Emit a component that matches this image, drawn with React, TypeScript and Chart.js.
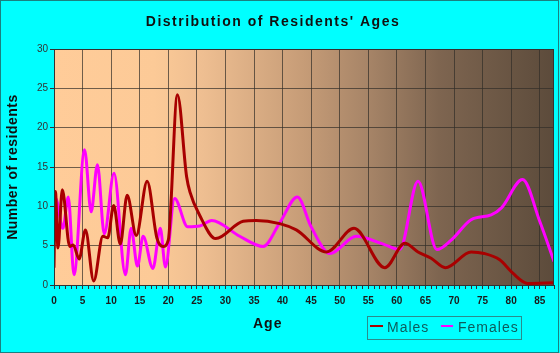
import React, { useEffect, useRef } from 'react';
import { Chart, registerables } from 'chart.js';

Chart.register(...registerables);

const chartTitle = "Distribution of Residents' Ages";
const xAxisTitle = 'Age';
const yAxisTitle = 'Number of residents';
const seriesNames = ['Males', 'Females'];

const maleAges = [0, 0.25, 0.7, 1.45, 2.75, 3.35, 4.4, 5.5, 6.95, 8.55, 9.4, 10.45, 11.6, 12.8, 14.4, 16.3, 18.0, 19.1, 20.0, 21.6, 23.2, 23.8, 25.4, 28.3, 33.1, 35.4, 39.5, 42.4, 47.7, 52.5, 57.9, 61.4, 63.7, 66.0, 68.5, 73.0, 75.3, 78.0, 80.3, 82.9, 87.5];
const maleCounts = [2.2, 11.9, 4.7, 12.1, 4.9, 5.1, 3.3, 7.0, 0.5, 6.2, 6.0, 10.1, 5.2, 11.4, 6.3, 13.2, 6.0, 4.9, 5.7, 24.2, 13.8, 11.8, 9.0, 5.9, 8.1, 8.2, 7.8, 7.0, 4.2, 7.2, 2.2, 5.3, 4.2, 3.4, 2.2, 4.2, 4.0, 3.2, 1.5, 0.2, 0.3];

const femaleAges = [0, 0.3, 1.55, 2.5, 3.5, 5.35, 6.5, 7.6, 8.8, 10.5, 12.5, 13.5, 14.6, 15.6, 17.3, 18.6, 19.5, 21.1, 23.4, 25.5, 27.6, 32.5, 36.6, 39.5, 42.6, 45.0, 48.3, 52.9, 57.6, 60.5, 63.7, 67.0, 69.5, 73.0, 76.5, 78.3, 82.0, 85.0, 87.5];
const femaleCounts = [10.0, 11.0, 7.2, 11.2, 1.3, 17.2, 9.3, 15.3, 6.5, 14.2, 1.3, 7.2, 2.4, 6.2, 2.1, 7.2, 2.3, 11.0, 7.4, 7.5, 8.2, 6.2, 4.9, 7.9, 11.2, 7.4, 4.0, 6.2, 5.2, 4.5, 13.2, 4.5, 5.7, 8.3, 8.9, 9.8, 13.4, 8.1, 3.0];

const xMin = 0;
const xMax = 87.5;
const xLabelEvery = 5;
const yMin = 0;
const yMax = 30;
const yStep = 5;

const MALE_COLOR = '#a80000';
const FEMALE_COLOR = '#ff00ff';

const decorPlugin = {
  id: 'decor',
  beforeDraw(chart: any) {
    const { ctx, chartArea: a, width, height } = chart;
    ctx.save();
    ctx.fillStyle = '#00ffff';
    ctx.fillRect(0, 0, width, height);
    const g = ctx.createLinearGradient(a.left, 0, a.right, 0);
    g.addColorStop(0, '#ffcc99');
    g.addColorStop(0.2, '#fcca97');
    g.addColorStop(0.3, '#eebe91');
    g.addColorStop(0.5, '#c69c77');
    g.addColorStop(0.63, '#a68467');
    g.addColorStop(0.77, '#7e6550');
    g.addColorStop(1, '#5c4b3b');
    ctx.fillStyle = g;
    ctx.fillRect(a.left, a.top, a.right - a.left, a.bottom - a.top);
    ctx.restore();
  },
  afterDraw(chart: any) {
    const { ctx, chartArea: a, width, height } = chart;
    ctx.save();
    // plot frame
    ctx.strokeStyle = '#333333';
    ctx.lineWidth = 1;
    ctx.strokeRect(Math.round(a.left) + 0.5, Math.round(a.top) + 0.5, Math.round(a.right - a.left) - 1, Math.round(a.bottom - a.top));
    // outer border
    ctx.strokeStyle = '#1a8080';
    ctx.strokeRect(0.5, 0.5, width - 2, height - 1);

    ctx.fillStyle = '#111111';
    (ctx as any).letterSpacing = '1.5px';
    ctx.font = 'bold 14px "Liberation Sans", Arial, sans-serif';
    ctx.textAlign = 'center';
    ctx.textBaseline = 'alphabetic';
    ctx.fillText(chartTitle, 273, 26);

    (ctx as any).letterSpacing = '1px';
    ctx.textAlign = 'left';
    ctx.fillText(xAxisTitle, 253, 328);

    ctx.save();
    ctx.translate(17, (a.top + a.bottom) / 2);
    ctx.rotate(-Math.PI / 2);
    ctx.textAlign = 'center';
    (ctx as any).letterSpacing = '0.5px';
    ctx.fillText(yAxisTitle, 0, 0);
    ctx.restore();

    // legend
    ctx.strokeStyle = '#2a8c8c';
    ctx.lineWidth = 1;
    ctx.strokeRect(367.5, 316.5, 154, 23);
    ctx.lineWidth = 2;
    ctx.strokeStyle = MALE_COLOR;
    ctx.beginPath();
    ctx.moveTo(370, 326);
    ctx.lineTo(383, 326);
    ctx.stroke();
    ctx.strokeStyle = FEMALE_COLOR;
    ctx.beginPath();
    ctx.moveTo(441, 326);
    ctx.lineTo(453, 326);
    ctx.stroke();
    ctx.fillStyle = '#0d5c5c';
    ctx.font = '14px "Liberation Sans", Arial, sans-serif';
    (ctx as any).letterSpacing = '1px';
    ctx.textAlign = 'left';
    ctx.fillText(seriesNames[0], 387, 332);
    ctx.fillText(seriesNames[1], 458, 332);
    ctx.restore();
  },
};

export default function App() {
  const canvasRef = useRef<HTMLCanvasElement | null>(null);

  useEffect(() => {
    document.body.style.margin = '0';
    const canvas = canvasRef.current;
    if (!canvas) return;
    const maleData = maleAges.map((x, i) => ({ x, y: maleCounts[i] }));
    const femaleData = femaleAges.map((x, i) => ({ x, y: femaleCounts[i] }));
    const chart = new Chart(canvas, {
      type: 'line',
      data: {
        datasets: [
          {
            label: seriesNames[0],
            data: maleData,
            borderColor: MALE_COLOR,
            backgroundColor: MALE_COLOR,
            borderWidth: 3,
            pointRadius: 0,
            cubicInterpolationMode: 'monotone',
            order: 1,
          },
          {
            label: seriesNames[1],
            data: femaleData,
            borderColor: FEMALE_COLOR,
            backgroundColor: FEMALE_COLOR,
            borderWidth: 3,
            pointRadius: 0,
            cubicInterpolationMode: 'monotone',
            order: 2,
          },
        ],
      },
      plugins: [decorPlugin],
      options: {
        responsive: false,
        animation: false,
        devicePixelRatio: 1,
        layout: { padding: { left: 0, top: 49, right: 5, bottom: 0 } },
        plugins: {
          legend: { display: false },
          title: { display: false },
          tooltip: { enabled: false },
        },
        scales: {
          x: {
            type: 'linear',
            min: xMin,
            max: xMax,
            afterFit: (s: any) => {
              s.height = 68;
            },
            ticks: {
              stepSize: 1,
              autoSkip: false,
              maxRotation: 0,
              padding: 6,
              color: '#1a1a1a',
              font: { family: '"Liberation Sans", Arial, sans-serif', size: 10, weight: 'bold' },
              callback: (v: any) => (Number(v) % xLabelEvery === 0 ? String(v) : ''),
            },
            grid: {
              color: (c: any) => (c.tick && c.tick.value % xLabelEvery === 0 && c.tick.value > 0 ? 'rgba(50,45,40,0.7)' : 'rgba(0,0,0,0)'),
              tickColor: '#333333',
              tickLength: 4,
              lineWidth: 1,
            },
            border: { display: true, color: '#333333' },
          },
          y: {
            type: 'linear',
            min: yMin,
            max: yMax,
            afterFit: (s: any) => {
              s.width = 54;
            },
            ticks: {
              stepSize: yStep,
              padding: 2,
              color: '#333333',
              font: { family: '"Liberation Sans", Arial, sans-serif', size: 10 },
            },
            grid: {
              color: (c: any) => (c.tick && c.tick.value > 0 ? 'rgba(50,45,40,0.7)' : 'rgba(0,0,0,0)'),
              tickColor: '#333333',
              tickLength: 4,
            },
            border: { display: true, color: '#333333' },
          },
        },
      },
    } as any);
    return () => chart.destroy();
  }, []);

  return (
    <div style={{ width: 560, height: 353 }}>
      <canvas ref={canvasRef} width={560} height={353} style={{ display: 'block' }} />
    </div>
  );
}
